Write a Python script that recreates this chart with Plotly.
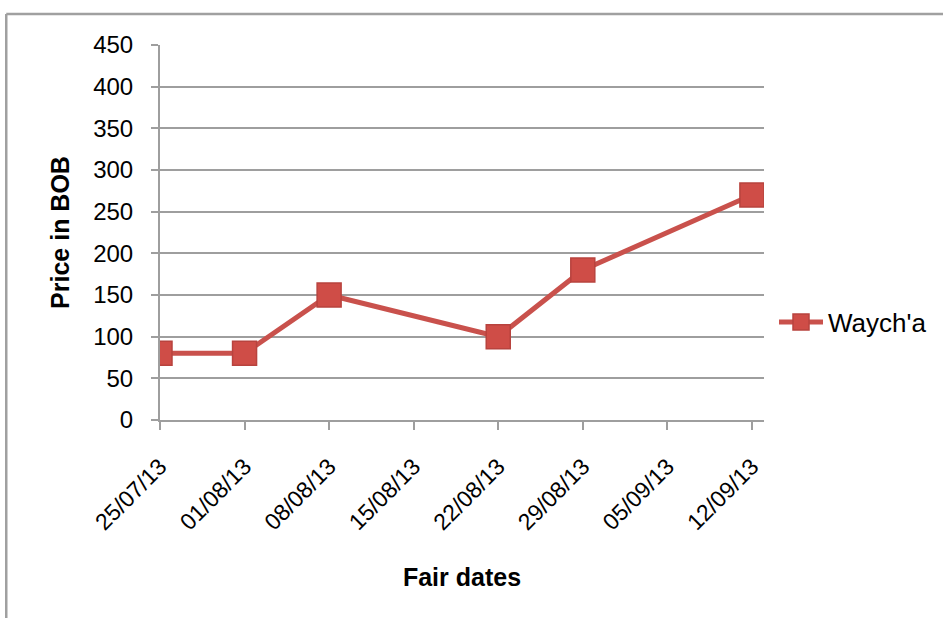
import plotly.graph_objects as go

# Fair prices of Waych'a, in bolivianos
fair_dates = ["2013-07-25", "2013-08-01", "2013-08-08", "2013-08-22", "2013-08-29", "2013-09-12"]
prices = [80, 80, 150, 100, 180, 270]

# Weekly date ticks along the x axis
tick_dates = ["2013-07-25", "2013-08-01", "2013-08-08", "2013-08-15",
              "2013-08-22", "2013-08-29", "2013-09-05", "2013-09-12"]
tick_labels = ["25/07/13", "01/08/13", "08/08/13", "15/08/13",
               "22/08/13", "29/08/13", "05/09/13", "12/09/13"]
y_ticks = list(range(0, 451, 50))

RED = "#C9514C"
GRID = "#9E9E9E"
FONT = "Arial, Liberation Sans, sans-serif"

fig = go.Figure()
fig.add_trace(go.Scatter(
    x=fair_dates, y=prices, name="Waych'a", mode="lines+markers",
    line=dict(color=RED, width=5),
    marker=dict(symbol="square", size=24, color="#CF4D47",
                line=dict(color="#B8433E", width=1.5)),
))

plot_l, plot_r, plot_t, plot_b = 160, 765, 45, 420
W, H = 943, 618
pw, ph = plot_r - plot_l, plot_b - plot_t

fig.update_layout(
    width=W, height=H,
    margin=dict(l=plot_l, r=W - plot_r, t=plot_t, b=H - plot_b, pad=0),
    paper_bgcolor="white", plot_bgcolor="white",
    font=dict(family=FONT, size=24, color="black"),
    showlegend=True,
    legend=dict(x=(774 - plot_l) / pw, y=(plot_b - 322) / ph, xanchor="left", yanchor="middle",
                font=dict(size=26, family=FONT), bgcolor="rgba(0,0,0,0)",
                itemwidth=44),
    xaxis=dict(
        type="date", range=["2013-07-25", "2013-09-13"],
        tickvals=tick_dates, ticktext=tick_labels, tickangle=-45,
        showgrid=False, showline=True, linecolor=GRID, linewidth=2,
        ticks="outside", ticklen=8, tickwidth=2, tickcolor=GRID,
        tickfont=dict(size=23, family=FONT), ticklabelstandoff=14,
        title=dict(text="<b>Fair dates</b>", font=dict(size=25, family=FONT), standoff=34),
        zeroline=False,
    ),
    yaxis=dict(
        range=[0, 450], tickvals=y_ticks,
        showgrid=True, gridcolor=GRID, gridwidth=2,
        showline=True, linecolor=GRID, linewidth=2,
        ticks="outside", ticklen=7, tickwidth=2, tickcolor=GRID,
        tickfont=dict(size=24, family=FONT), ticklabelstandoff=13,
        title=dict(text="<b>Price in BOB</b>", font=dict(size=25, family=FONT), standoff=16),
        zeroline=False,
    ),
)

# Chart frame: top and left edges
top_y = 1 + (plot_t - 14) / ph
left_x = -(plot_l - 6) / pw
fig.add_shape(type="line", xref="paper", yref="paper",
              x0=left_x, x1=(W - plot_l + 20) / pw, y0=top_y, y1=top_y,
              line=dict(color="#A0A0A0", width=2.5))
fig.add_shape(type="line", xref="paper", yref="paper",
              x0=left_x, x1=left_x, y0=top_y, y1=-(H - plot_b + 20) / ph,
              line=dict(color="#A0A0A0", width=2.5))

fig.write_html("out.html")
